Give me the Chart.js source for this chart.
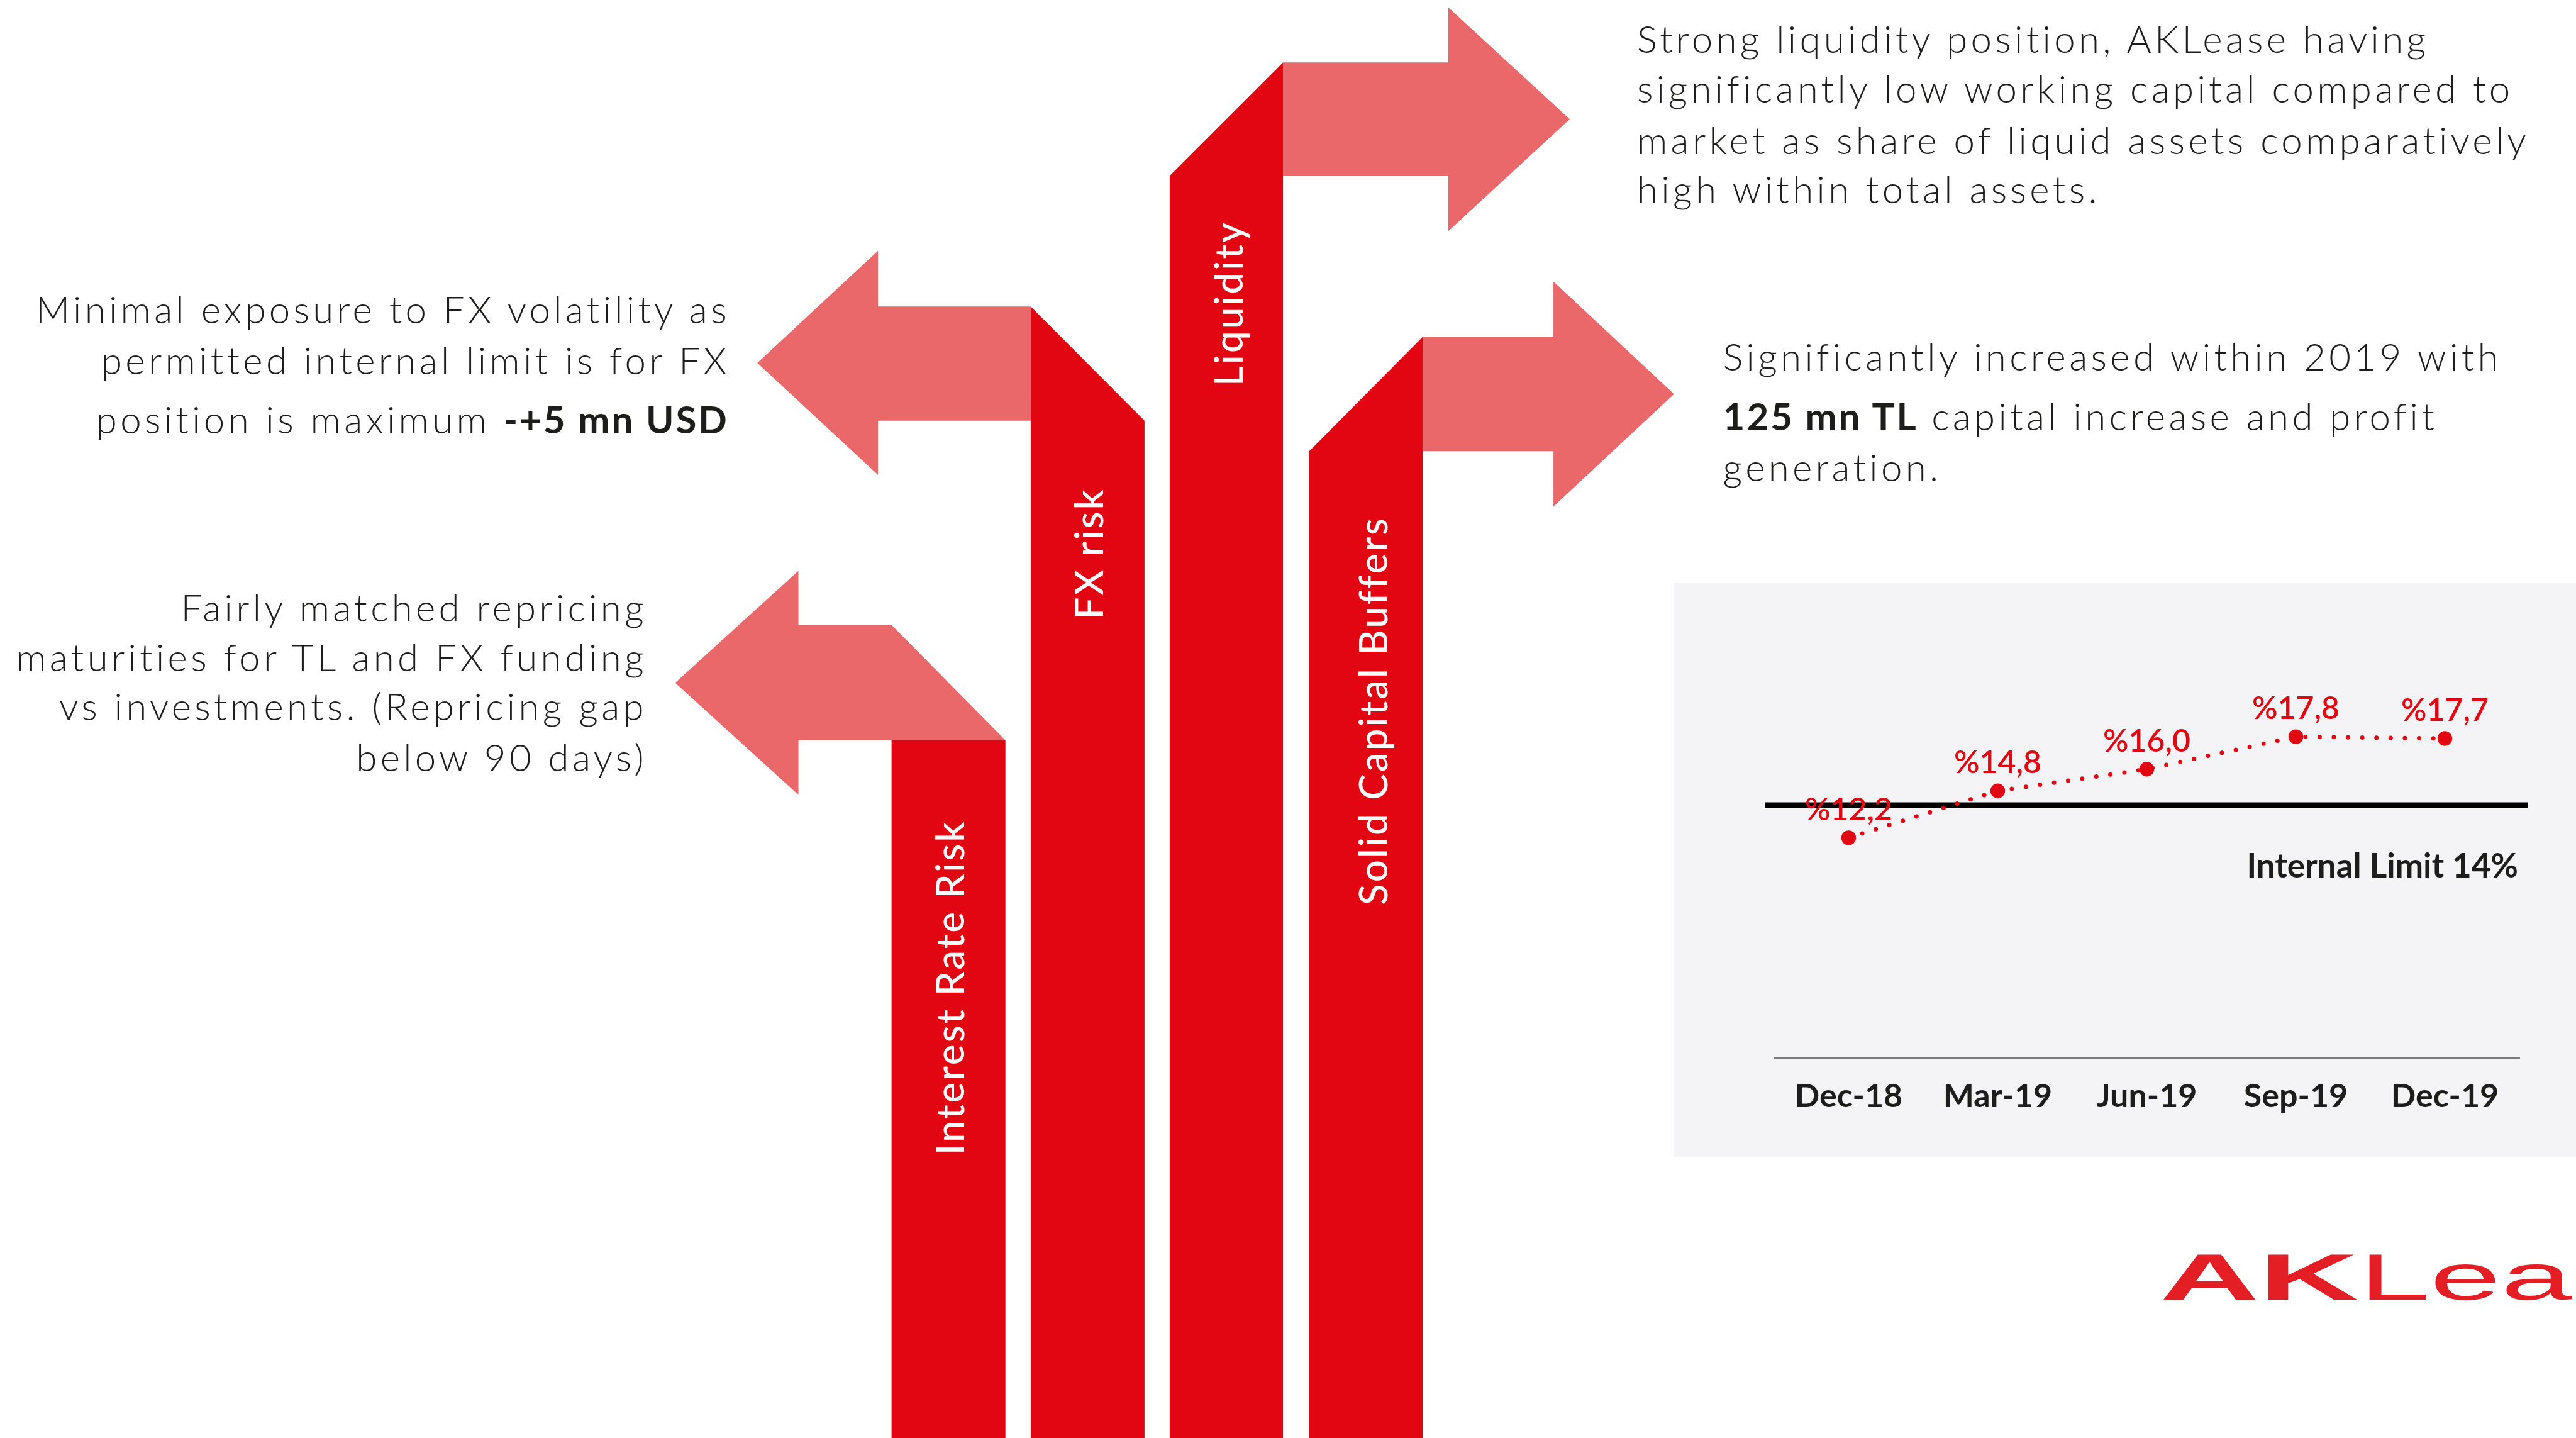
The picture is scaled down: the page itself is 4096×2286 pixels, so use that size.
<!DOCTYPE html>
<html>
<head>
<meta charset="utf-8">
<script src="https://cdn.jsdelivr.net/npm/chart.js@4.4.1/dist/chart.umd.min.js"></script>
<style>
  html, body { margin: 0; padding: 0; background: #fff; }
  #page { position: relative; width: 4096px; height: 2286px; overflow: hidden; }
  #art { position: absolute; left: 0; top: 0; }
  #art text { font-family: Lato, "Noto Sans", sans-serif; }
  .body { font-size: 60px; font-weight: 300; fill: #1d1d1b; letter-spacing: 5.3px; }
  .body tspan.b { font-weight: 700; letter-spacing: 3px; }
  .tag { font-size: 62px; font-weight: 500; fill: #fff; letter-spacing: 3px; }
  #panel { position: absolute; left: 2662px; top: 927px; width: 1434px; height: 913px; background: #f4f4f6; }
</style>
</head>
<body>
<div id="page">
  <svg id="art" width="4096" height="2286" viewBox="0 0 4096 2286">
    <!-- pale arrow heads and shafts -->
    <g fill="#ea676a">
      <polygon points="1073.6,1085.4 1269.5,907.4 1269.5,993.4 1417.6,993.4 1598.7,1176.8 1269.5,1176.8 1269.5,1263.4"/>
      <polygon points="1204.2,577 1396.2,398.4 1396.2,487.2 1638.9,487.2 1638.9,668.7 1396.2,668.7 1396.2,754.9"/>
      <polygon points="2040.1,99.3 2302.9,99.3 2302.9,11.8 2496,189.4 2302.9,367.6 2302.9,279.5 2040.1,279.5"/>
      <polygon points="2262.2,535.5 2470.1,535.5 2470.1,447.6 2661.8,626.4 2470.1,805.2 2470.1,717.3 2262.2,717.3"/>
    </g>
    <!-- the four upright bars -->
    <g fill="#e20613">
      <polygon points="1417.6,1176.8 1598.7,1176.8 1598.7,2286 1417.6,2286"/>
      <polygon points="1638.9,487.2 1819.9,668.7 1819.9,2286 1638.9,2286"/>
      <polygon points="1859.9,279.5 2040.1,99.3 2040.1,2286 1859.9,2286"/>
      <polygon points="2081.9,717.3 2262.2,535.5 2262.2,2286 2081.9,2286"/>
    </g>
    <g class="tag" text-anchor="middle" dominant-baseline="central">
      <text x="1509" y="1570" transform="rotate(-90 1509 1570)">Interest Rate Risk</text>
      <text x="1729.5" y="880" transform="rotate(-90 1729.5 880)">FX risk</text>
      <text x="1952" y="482.5" transform="rotate(-90 1952 482.5)">Liquidity</text>
      <text x="2182" y="1130" transform="rotate(-90 2182 1130)">Solid Capital Buffers</text>
    </g>

    <g class="body" text-anchor="end">
      <text x="1161" y="514">Minimal exposure to FX volatility as</text>
      <text x="1161" y="595">permitted internal limit is for FX</text>
      <text x="1159" y="689">position is maximum <tspan class="b">-+5 mn USD</tspan></text>
      <text x="1029" y="987.5">Fairly matched repricing</text>
      <text x="1029" y="1067">maturities for TL and FX funding</text>
      <text x="1029" y="1145">vs investments. (Repricing gap</text>
      <text x="1029" y="1225.6">below 90 days)</text>
    </g>
    <g class="body" text-anchor="start">
      <text x="2603" y="84">Strong liquidity position, AKLease having</text>
      <text x="2603" y="163">significantly low working capital compared to</text>
      <text x="2603" y="244.7">market as share of liquid assets comparatively</text>
      <text x="2603" y="323">high within total assets.</text>
      <text x="2739.6" y="589">Significantly increased within 2019 with</text>
      <text x="2739.6" y="683.6"><tspan class="b">125 mn TL</tspan> capital increase and profit</text>
      <text x="2739.6" y="765">generation.</text>
    </g>

    <!-- logo, running into the right edge -->
    <text transform="translate(3434.5 2065.7) scale(2.12 1)" style="font-family:'Liberation Sans',Arial,sans-serif;font-weight:700;font-size:103px;fill:#e31e24">AK</text>
    <text transform="translate(3751 2065.7) scale(1.97 1)" style="font-family:'Liberation Sans',Arial,sans-serif;font-weight:400;font-size:103px;fill:#e31e24">Lea</text>
  </svg>
  <div id="panel"><canvas id="car"></canvas></div>
</div>
<script>
const periods = ['Dec-18', 'Mar-19', 'Jun-19', 'Sep-19', 'Dec-19'];
const carValues = [12.2, 14.8, 16.0, 17.8, 17.7];
const internalLimit = 14;
const limitLabel = 'Internal Limit 14%';

const RED = '#e20613';
const INK = '#1d1d1b';

const fmtPct = v => '%' + v.toFixed(1).replace('.', ',');

// black reference line for the internal limit, plus its caption
const limitLine = {
  id: 'limitLine',
  beforeDatasetsDraw(chart) {
    const { ctx, chartArea, scales } = chart;
    const y = scales.y.getPixelForValue(internalLimit);
    ctx.save();
    ctx.strokeStyle = '#000';
    ctx.lineWidth = 9.5;
    ctx.beginPath();
    ctx.moveTo(chartArea.left - 15, y);
    ctx.lineTo(chartArea.right + 14, y);
    ctx.stroke();
    ctx.font = '700 53px Lato';
    ctx.fillStyle = INK;
    ctx.textAlign = 'right';
    ctx.textBaseline = 'alphabetic';
    ctx.fillText(limitLabel, chartArea.right - 2, y + 115);
    ctx.restore();
  }
};

// value above each point
const valueLabels = {
  id: 'valueLabels',
  afterDatasetsDraw(chart) {
    const { ctx } = chart;
    const meta = chart.getDatasetMeta(0);
    ctx.save();
    ctx.font = '600 50px Lato';
    ctx.fillStyle = RED;
    ctx.textAlign = 'center';
    ctx.textBaseline = 'alphabetic';
    meta.data.forEach((pt, i) => {
      ctx.fillText(fmtPct(carValues[i]), pt.x, pt.y - 28);
    });
    ctx.restore();
  }
};

new Chart(document.getElementById('car'), {
  type: 'line',
  data: {
    labels: periods,
    datasets: [{
      data: carValues,
      borderColor: RED,
      borderWidth: 7,
      borderDash: [0, 22.6],
      borderCapStyle: 'round',
      pointRadius: 11.7,
      pointBackgroundColor: RED,
      pointBorderWidth: 0,
      tension: 0,
      fill: false,
      clip: false
    }]
  },
  options: {
    responsive: true,
    maintainAspectRatio: false,
    devicePixelRatio: 1,
    animation: false,
    layout: { padding: { left: 159, right: 90, top: 37.5, bottom: 0 } },
    plugins: { legend: { display: false }, tooltip: { enabled: false } },
    scales: {
      x: {
        offset: true,
        grid: { display: false, drawTicks: false },
        border: { display: true, color: '#7a7a7a', width: 2 },
        ticks: { color: INK, font: { family: 'Lato', size: 52, weight: 'bold' }, padding: 30 },
        afterFit: s => { s.height = 158; }
      },
      y: { display: false, min: 0, max: 25 }
    }
  },
  plugins: [limitLine, valueLabels]
});
</script>
</body>
</html>
